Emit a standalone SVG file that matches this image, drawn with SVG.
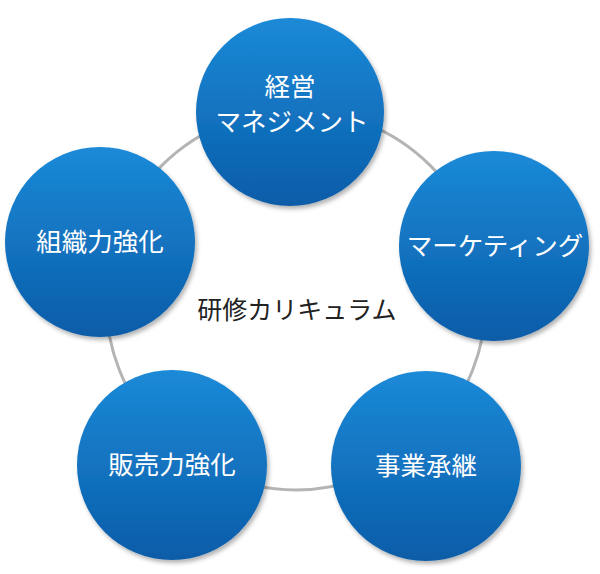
<svg xmlns="http://www.w3.org/2000/svg" width="600" height="574" viewBox="0 0 600 574">
<style>
.t{font-family:"Noto Sans CJK JP","Noto Sans",sans-serif;font-size:25.5px;fill:#fff;text-anchor:middle}
.c{fill:url(#g);filter:url(#s)}
</style>
<defs>
<linearGradient id="g" x1="0" y1="0" x2="0" y2="1">
<stop offset="0" stop-color="#1b8ad8"/><stop offset="1" stop-color="#0a5ca8"/>
</linearGradient>
<filter id="s" x="-10%" y="-10%" width="125%" height="125%"><feDropShadow dx="2" dy="3" stdDeviation="2" flood-color="#000" flood-opacity="0.3"/></filter>
</defs>
<g id="connectors"><circle cx="296" cy="300" r="190" fill="none" stroke="#b4b4b4" stroke-width="3"/></g>
<g id="center"><text x="297" y="319" style="font-family:'Noto Sans CJK JP',sans-serif;font-size:25px;fill:#222;text-anchor:middle">研修カリキュラム</text></g>
<g id="n1"><circle class="c" cx="290" cy="112" r="94"/><text class="t" x="290" y="96">経営</text><text class="t" x="292" y="131">マネジメント</text></g>
<g id="n2"><circle class="c" cx="494" cy="246" r="95"/><text class="t" x="495" y="255">マーケティング</text></g>
<g id="n3"><circle class="c" cx="426" cy="466" r="95"/><text class="t" x="426" y="475">事業承継</text></g>
<g id="n4"><circle class="c" cx="172" cy="465" r="95"/><text class="t" x="172" y="474">販売力強化</text></g>
<g id="n5"><circle class="c" cx="100" cy="242" r="95"/><text class="t" x="100" y="251">組織力強化</text></g>
</svg>
